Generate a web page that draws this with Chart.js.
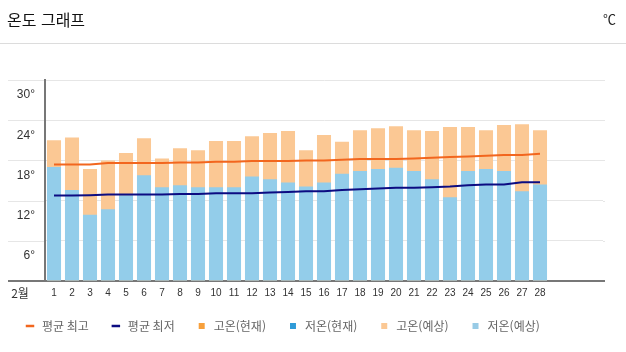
<!DOCTYPE html>
<html lang="ko">
<head>
<meta charset="utf-8">
<script src="https://cdn.jsdelivr.net/npm/chart.js@4/dist/chart.umd.min.js"></script>
<style>
  html, body { margin: 0; padding: 0; background: #fff; }
  #wrap { position: relative; width: 626px; height: 352px; overflow: hidden; }
  #chartBox { position: absolute; left: 0; top: 0; width: 626px; height: 352px; }
  #title { position: absolute; left: 7px; top: 8px; font: 16px 'Noto Sans CJK KR', sans-serif; color: #111; line-height: 22px; z-index: 2; }
  #unit { position: absolute; right: 10px; top: 9px; font: 13px 'Noto Sans CJK KR', sans-serif; color: #222; line-height: 20px; z-index: 2; }
  #sep { position: absolute; left: 0; top: 43px; width: 626px; height: 1px; background: #dcdcdc; z-index: 2; }
</style>
</head>
<body>
<div id="wrap">
  <div id="title">온도 그래프</div>
  <div id="unit">℃</div>
  <div id="sep"></div>
  <div id="chartBox"><canvas id="c"></canvas></div>
</div>
<script>
// ---- data ----
const monthLabel = '2월';
const days = ['1','2','3','4','5','6','7','8','9','10','11','12','13','14','15','16','17','18','19','20','21','22','23','24','25','26','27','28','','',''];
const avgHigh = [17.4,17.4,17.4,17.6,17.6,17.6,17.6,17.7,17.7,17.8,17.8,17.9,17.9,17.9,18.0,18.0,18.1,18.2,18.2,18.2,18.3,18.4,18.5,18.6,18.7,18.8,18.8,19.0];
const avgLow = [12.75,12.75,12.8,12.9,12.9,12.9,12.9,13.0,13.0,13.1,13.1,13.1,13.2,13.3,13.4,13.4,13.6,13.7,13.8,13.9,13.9,14.0,14.1,14.3,14.4,14.4,14.75,14.75];
const highCurrent = [];
const lowCurrent = [];
const highForecast = [21.0,21.4,16.7,18.0,19.1,21.3,18.3,19.8,19.5,20.9,20.9,21.6,22.1,22.4,19.5,21.8,20.8,22.5,22.8,23.1,22.5,22.4,23.0,23.0,22.5,23.3,23.4,22.5];
const lowForecast = [17.0,13.6,9.9,10.7,12.8,15.8,14.0,14.3,14.0,14.0,14.0,15.6,15.2,14.7,14.1,14.7,16.0,16.4,16.7,16.9,16.4,15.2,12.5,16.4,16.7,16.4,13.4,14.4];
const yTicks = [0, 6, 12, 18, 24, 30];
const seriesNames = ['평균 최고','평균 최저','고온(현재)','저온(현재)','고온(예상)','저온(예상)'];

const FONT = "'Noto Sans CJK KR', sans-serif";
const NARROW = "'Liberation Sans Narrow', 'Liberation Sans', sans-serif";

const extendPlugin = {
  id: 'extend',
  afterDraw(chart) {
    const ctx = chart.ctx;
    const ys = chart.scales.y;
    const area = chart.chartArea;
    ctx.save();
    ctx.strokeStyle = '#e6e6e6';
    ctx.lineWidth = 1;
    yTicks.forEach(v => {
      if (v === 0) return;
      const py = Math.round(ys.getPixelForValue(v)) + 0.5;
      ctx.beginPath();
      ctx.moveTo(8, py);
      ctx.lineTo(area.left - 1, py);
      ctx.moveTo(area.right, py);
      ctx.lineTo(area.right + 2, py);
      ctx.stroke();
    });
    const by = ys.getPixelForValue(0);
    ctx.strokeStyle = '#777';
    ctx.lineWidth = 2;
    ctx.beginPath();
    ctx.moveTo(8, by);
    ctx.lineTo(area.left, by);
    ctx.moveTo(area.right, by);
    ctx.lineTo(area.right + 2, by);
    ctx.stroke();
    ctx.fillStyle = '#333';
    ctx.font = '12px ' + FONT;
    ctx.textAlign = 'center';
    ctx.textBaseline = 'middle';
    ctx.fillText(monthLabel, 20, by + 12);
    ctx.restore();
  }
};

const legendColors = ['#f2661e', '#0c0c82', '#f7a03c', '#2f9bd8', '#fbc894', '#98cbe6'];

new Chart(document.getElementById('c'), {
  type: 'bar',
  data: {
    labels: days,
    datasets: [
      { type: 'line', label: seriesNames[0], data: avgHigh, borderColor: '#f2661e', borderWidth: 2, pointRadius: 0, tension: 0, order: 0 },
      { type: 'line', label: seriesNames[1], data: avgLow, borderColor: '#0c0c82', borderWidth: 2, pointRadius: 0, tension: 0, order: 1 },
      { label: seriesNames[2], data: highCurrent, backgroundColor: '#f7a03c', grouped: false, order: 3 },
      { label: seriesNames[3], data: lowCurrent, backgroundColor: '#2f9bd8', grouped: false, order: 2 },
      { label: seriesNames[4], data: highForecast, backgroundColor: '#fbc894', grouped: false, order: 6 },
      { label: seriesNames[5], data: lowForecast, backgroundColor: '#93cdea', grouped: false, order: 5 }
    ]
  },
  options: {
    responsive: true,
    maintainAspectRatio: false,
    animation: false,
    layout: { padding: { top: 80, left: 3, right: 23, bottom: 10 } },
    datasets: { bar: { categoryPercentage: 1, barPercentage: 0.78 } },
    plugins: {
      tooltip: { enabled: false },
      legend: {
        position: 'bottom',
        align: 'start',
        labels: {
          usePointStyle: true,
          boxWidth: 12,
          boxHeight: 6,
          padding: 21,
          color: '#666',
          font: { family: FONT, size: 12 },
          generateLabels(chart) {
            return chart.data.datasets.map((ds, i) => ({
              text: ds.label,
              fillStyle: legendColors[i],
              strokeStyle: legendColors[i],
              lineWidth: ds.type === 'line' ? 2.5 : 0,
              pointStyle: ds.type === 'line' ? 'line' : 'rect',
              hidden: false,
              datasetIndex: i,
              fontColor: '#666'
            }));
          }
        }
      }
    },
    scales: {
      x: {
        grid: { display: false, drawTicks: false },
        border: { display: true, color: '#777', width: 2 },
        ticks: { color: '#333', font: { family: NARROW, size: 10 }, padding: 6, maxRotation: 0, autoSkip: false },
        afterFit(s) { s.height = 18; }
      },
      y: {
        min: 0, max: 30,
        afterBuildTicks(s) { s.ticks = yTicks.map(v => ({ value: v })); },
        grid: { color: '#e6e6e6', lineWidth: 1, drawTicks: false },
        border: { display: true, color: '#777', width: 2 },
        ticks: {
          color: '#333',
          font: { family: NARROW, size: 12 },
          padding: 10,
          labelOffset: 15,
          callback: v => v === 0 ? '' : v + '°'
        },
        afterFit(s) { s.width = 42; }
      }
    }
  },
  plugins: [extendPlugin]
});
</script>
</body>
</html>
